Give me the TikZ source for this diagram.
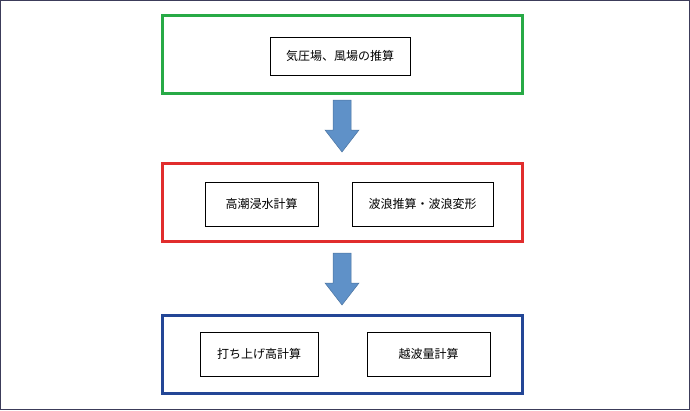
\documentclass[tikz,border=0pt]{standalone}
\usepackage{fontspec}
\newfontfamily\cjk{Noto Sans CJK JP}
\definecolor{gG}{RGB}{40,170,70}
\definecolor{rR}{RGB}{225,45,45}
\definecolor{bB}{RGB}{35,70,150}
\definecolor{aA}{RGB}{95,145,200}
\definecolor{fr}{RGB}{60,60,90}
\begin{document}
\begin{tikzpicture}[x=1pt,y=-1pt,
  frame/.style={line width=3pt},
  inbox/.style={draw=black,line width=0.6pt,fill=white,inner sep=0pt,font=\cjk\fontsize{12}{14}\selectfont},
  downarrow/.style={fill=aA,draw=aA!80!black,line width=0.5pt}]
\path[use as bounding box] (0,0) rectangle (690,410);
\draw[fr,line width=1pt] (0.5,0.5) rectangle (689.5,409.5);
\draw[frame,gG] (162,15) rectangle (522,93);
\draw[frame,rR] (162,163) rectangle (522,241);
\draw[frame,bB] (162,315) rectangle (522,393);
\node[inbox,minimum width=140pt,minimum height=38pt] (a) at (340,56) {気圧場、風場の推算};
\node[inbox,minimum width=113pt,minimum height=44pt] (b) at (261.5,204) {高潮浸水計算};
\node[inbox,minimum width=141pt,minimum height=44pt] (c) at (422.5,204) {波浪推算・波浪変形};
\node[inbox,minimum width=118pt,minimum height=44pt] (d) at (259,354) {打ち上げ高計算};
\node[inbox,minimum width=123pt,minimum height=44pt] (e) at (428.5,354) {越波量計算};
\coordinate (t1) at (342,100);
\coordinate (t2) at (342,253);
\foreach \c in {t1,t2}{
 \draw[downarrow] (\c) ++(-9,0) -- ++(18,0) -- ++(0,30) -- ++(8,0) -- ++(-17,22) -- ++(-17,-22) -- ++(8,0) -- cycle;
}
\end{tikzpicture}
\end{document}
